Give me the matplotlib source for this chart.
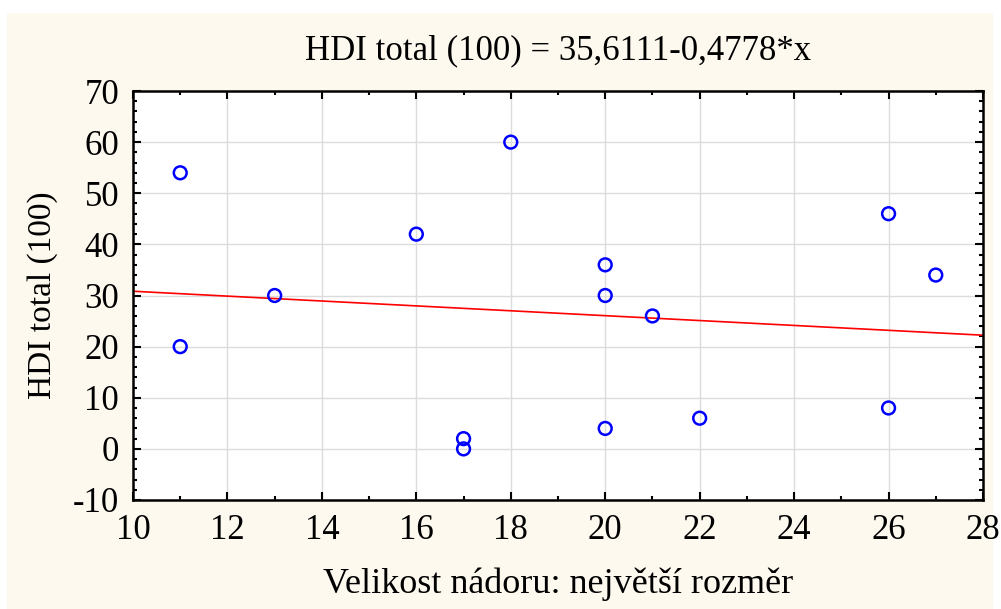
import matplotlib.pyplot as plt
from matplotlib.patches import Rectangle
from matplotlib.ticker import MultipleLocator

# tumour size vs. HDI total score
size_mm = [11, 11, 13, 16, 17, 17, 18, 20, 20, 20, 21, 22, 26, 26, 27]
hdi_total = [54, 20, 30, 42, 2, 0, 60, 36, 30, 4, 26, 6, 46, 8, 34]

# regression coefficients shown in the title
intercept = 35.6111
slope = -0.4778

plt.rcParams['font.family'] = 'Liberation Serif'
plt.rcParams['axes.unicode_minus'] = False

W, H = 1001, 609
fig = plt.figure(figsize=(W / 100, H / 100), dpi=100)
fig.patch.set_facecolor('white')
fig.patches.append(Rectangle((7 / W, 0), (993 - 7) / W, (609 - 13) / H,
                             transform=fig.transFigure, facecolor='#fdf9ef',
                             edgecolor='none', zorder=-10))

ax = fig.add_axes([133 / W, 1 - 500 / H, (983 - 133) / W, (500 - 91) / H])
ax.set_facecolor('white')

ax.set_xlim(10, 28)
ax.set_ylim(-10, 70)
ax.xaxis.set_major_locator(MultipleLocator(2))
ax.xaxis.set_minor_locator(MultipleLocator(1))
ax.yaxis.set_major_locator(MultipleLocator(10))
ax.yaxis.set_minor_locator(MultipleLocator(2))

ax.grid(True, which='major', color='#dcdcdc', linewidth=1)
ax.set_axisbelow(True)

ax.tick_params(which='both', direction='in', top=True, right=True,
               labelsize=25, width=1.5, color='black')
ax.tick_params(which='major', length=6, pad=10)
ax.tick_params(which='minor', length=3)
for s in ax.spines.values():
    s.set_linewidth(1.8)

xs = [10, 28]
ax.plot(xs, [intercept + slope * x for x in xs], color='red', linewidth=1.2, zorder=2)
ax.scatter(size_mm, hdi_total, s=85, facecolors='none', edgecolors='blue',
           linewidths=1.8, zorder=3, clip_on=False)

ax.set_title('HDI total (100) = 35,6111-0,4778*x', fontsize=25, pad=23)
ax.set_xlabel('Velikost nádoru: největší rozměr', fontsize=26, labelpad=15)
ax.set_ylabel('HDI total (100)', fontsize=24, labelpad=11)

fig.savefig('out.png', dpi=100)
